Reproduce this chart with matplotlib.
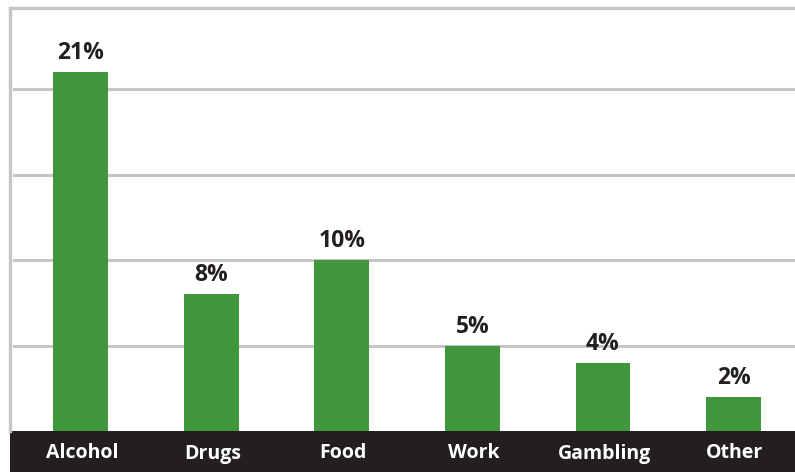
import matplotlib
matplotlib.use("Agg")
import matplotlib.pyplot as plt
from matplotlib.patches import Rectangle
from matplotlib.transforms import blended_transform_factory

categories = ["Alcohol", "Drugs", "Food", "Work", "Gambling", "Other"]
values = [21, 8, 10, 5, 4, 2]
gridlines = [5, 10, 15, 20]

GREEN = "#40963a"
GRID = "#c6c6c8"
DARK = "#231f20"

plt.rcParams["font.family"] = ["Open Sans", "DejaVu Sans"]

W, H = 795, 472
fig = plt.figure(figsize=(W / 100, H / 100), dpi=100)
fig.patch.set_facecolor("white")

left, bottom, top = 10, 41, 8
ax = fig.add_axes([left / W, bottom / H, (W - left) / W, (H - bottom - top) / H])
ax.set_xlim(-0.54, 5.47)
ax.set_ylim(0, 24.75)

# category band along the bottom
fig.patches.append(Rectangle((left / W, 0), (W - left) / W, bottom / H,
                             transform=fig.transFigure, facecolor=DARK,
                             edgecolor="none", zorder=-1))

for g in gridlines:
    ax.axhline(g, xmin=0.005, xmax=1, color=GRID, lw=2.2, zorder=1)

x = list(range(len(categories)))
ax.bar(x, values, width=0.42, color=GREEN, zorder=2)

for xi, v in zip(x, values):
    ax.annotate(f"{v}%", (xi, v), xytext=(0, 5), textcoords="offset points",
                ha="center", va="bottom", fontsize=16.5, fontweight="bold",
                color=DARK)

trans = blended_transform_factory(ax.transData, ax.transAxes)
for xi, c in zip(x, categories):
    ax.text(xi + 0.01, -22.5 / (H - bottom - top), c, transform=trans,
            ha="center", va="center", fontsize=14, fontweight="bold",
            color="white", zorder=5)

for s in ["right", "bottom"]:
    ax.spines[s].set_visible(False)
for s in ["left", "top"]:
    ax.spines[s].set_color(GRID)
    ax.spines[s].set_linewidth(2.4)
ax.set_xticks([])
ax.set_yticks([])

fig.savefig("out.png", dpi=100)
